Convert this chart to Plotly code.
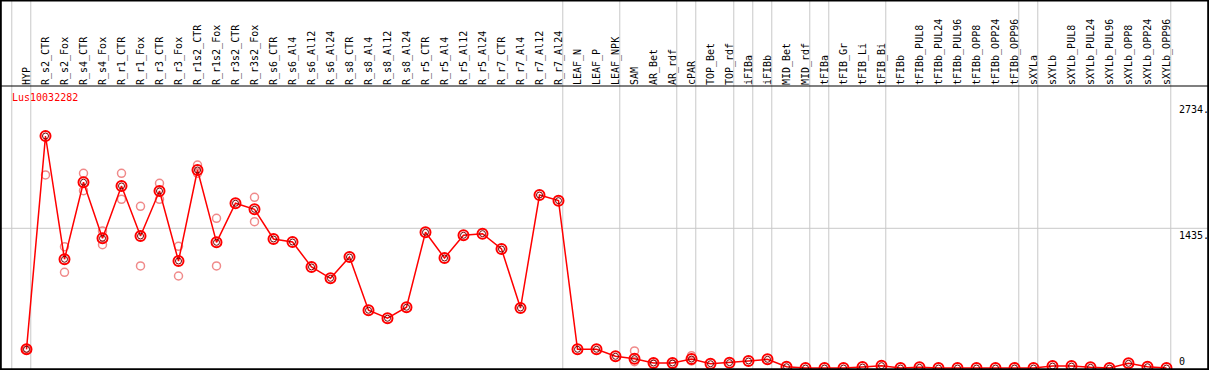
import plotly.graph_objects as go

W, H = 1209, 370

categories = [
    "HYP", "R_s2_CTR", "R_s2_Fox", "R_s4_CTR", "R_s4_Fox", "R_r1_CTR", "R_r1_Fox",
    "R_r3_CTR", "R_r3_Fox", "R_r1s2_CTR", "R_r1s2_Fox", "R_r3s2_CTR", "R_r3s2_Fox",
    "R_s6_CTR", "R_s6_Al4", "R_s6_Al12", "R_s6_Al24", "R_s8_CTR", "R_s8_Al4",
    "R_s8_Al12", "R_s8_Al24", "R_r5_CTR", "R_r5_Al4", "R_r5_Al12", "R_r5_Al24",
    "R_r7_CTR", "R_r7_Al4", "R_r7_Al12", "R_r7_Al24", "LEAF_N", "LEAF_P", "LEAF_NPK",
    "SAM", "AR_Bet", "AR_rdf", "cPAR", "TOP_Bet", "TOP_rdf", "iFIBa", "iFIBb",
    "MID_Bet", "MID_rdf", "tFIBa", "tFIB_Gr", "tFIB_Li", "tFIB_Bi", "tFIBb",
    "tFIBb_PUL8", "tFIBb_PUL24", "tFIBb_PUL96", "tFIBb_OPP8", "tFIBb_OPP24",
    "tFIBb_OPP96", "sXYLa", "sXYLb", "sXYLb_PUL8", "sXYLb_PUL24", "sXYLb_PUL96",
    "sXYLb_OPP8", "sXYLb_OPP24", "sXYLb_OPP96",
]

mean_values = [
    192, 2383, 1117, 1908, 1332, 1870, 1356, 1818, 1099, 2034, 1291, 1692, 1630,
    1325, 1294, 1038, 921, 1140, 593, 511, 624, 1394, 1130, 1363, 1380,
    1222, 616, 1777, 1719, 192, 192, 120,
    96, 51, 51, 92, 44, 55, 72, 89,
    13, 0, 0, 0, 10, 24, 0,
    7, 0, 0, 0, 0,
    0, 0, 20, 20, 7, 0,
    48, 13, 0,
]

# replicate values (None where hidden under the mean marker)
rep_a = [
    185, 1983, 1246, 2000, 1407, 2000, 1661, 1897, 1250, 2085, 1538, None, 1753,
    None, None, None, None, None, None, None, None, None, None, None, None,
    None, None, None, None, None, None, None,
    175, 40, 40, 126, None, None, None, None,
    None, None, None, None, None, None, None,
    None, None, None, None, None,
    None, None, None, None, None, None,
    None, None, None,
]
rep_b = [
    200, None, 983, 1821, 1267, 1733, 1048, 1733, 945, 2000, 1048, None, 1503,
    None, None, None, None, None, None, None, None, None, None, None, None,
    None, None, None, None, None, None, None,
    65, None, None, 72, None, None, None, None,
    None, None, None, None, None, None, None,
    None, None, None, None, None,
    None, None, None, None, None, None,
    None, None, None,
]

gene_name = "Lus10032282"
y_tick_values = [2734, 1435, 0]
y_tick_labels = ["2734.", "1435.", "0"]
group_boundaries = [-1, 0, 28, 31, 34, 35, 37, 38, 39, 41, 42, 45, 52, 53, 60]

idx = list(range(len(categories)))

fig = go.Figure()

fig.add_trace(go.Scatter(
    x=idx + idx, y=rep_a + rep_b, mode="markers",
    marker=dict(symbol="circle-open", size=8, color="#f08a8a", line=dict(width=1.5)),
    hoverinfo="skip", showlegend=False, cliponaxis=False,
))
fig.add_trace(go.Scatter(
    x=idx, y=mean_values, mode="lines+markers",
    line=dict(color="#ff0000", width=1.5),
    marker=dict(symbol="circle-open", size=10, color="#ff0000", line=dict(width=2)),
    showlegend=False, cliponaxis=True,
))
fig.add_trace(go.Scatter(
    x=idx, y=mean_values, mode="markers",
    marker=dict(symbol="circle-open", size=6, color="#700000", line=dict(width=1)),
    hoverinfo="skip", showlegend=False, cliponaxis=True,
))

top_px = 86
bottom_px = 369
x_lo = -26.5 / 19
x_hi = x_lo + W / 19
px_per_unit = (368 - 228.3) / 1435
y_lo = -(bottom_px - 368) / px_per_unit
y_hi = (368 - top_px) / px_per_unit

shapes = []
for g in group_boundaries:
    shapes.append(dict(type="line", xref="x", yref="paper", x0=g + 0.226, x1=g + 0.226,
                       y0=0, y1=1, line=dict(color="#c8c8c8", width=1), layer="below"))
shapes.append(dict(type="line", xref="paper", yref="y", x0=0, x1=1, y0=1435, y1=1435,
                   line=dict(color="#c8c8c8", width=1), layer="below"))
# frame
shapes.append(dict(type="rect", xref="paper", yref="paper", x0=0.8 / W, x1=1 - 0.8 / W,
                   y0=0.8 / H, y1=1 - 0.5 / H, line=dict(color="black", width=2)))
shapes.append(dict(type="line", xref="paper", yref="paper", x0=0, x1=1,
                   y0=1 - top_px / H, y1=1 - top_px / H, line=dict(color="black", width=1.2)))

annotations = [dict(text=gene_name, xref="paper", yref="paper", x=10 / W, y=1 - 97 / H,
                    xanchor="left", yanchor="middle", showarrow=False,
                    font=dict(family="DejaVu Sans Mono", size=10, color="#ff0000"))]
for v, t in zip(y_tick_values, y_tick_labels):
    yy = v
    anc = "top"
    if v == 0:
        anc = "bottom"
        yy = v - 10
    annotations.append(dict(text=t, xref="paper", yref="y", x=1177 / W, y=yy,
                            xanchor="left", yanchor=anc, showarrow=False,
                            font=dict(family="DejaVu Sans Mono", size=10, color="black")))

fig.update_layout(
    width=W, height=H,
    margin=dict(l=0, r=0, t=0, b=0, pad=0, autoexpand=False),
    paper_bgcolor="white", plot_bgcolor="white",
    xaxis=dict(range=[x_lo, x_hi], domain=[0, 1], side="top", automargin=False,
               tickmode="array", tickvals=idx, ticktext=categories, tickangle=-90,
               showgrid=False, zeroline=False, showline=False, ticks="",
               tickfont=dict(family="DejaVu Sans Mono", size=10, color="black")),
    yaxis=dict(range=[y_lo, y_hi], domain=[1 - bottom_px / H, 1 - top_px / H],
               automargin=False,
               showgrid=False, zeroline=False, showticklabels=False, showline=False),
    shapes=shapes, annotations=annotations,
)

fig.write_html(
    "out.html",
    config={"displayModeBar": False},
    post_script="document.body.style.margin='0';document.body.style.overflow='hidden';",
)
